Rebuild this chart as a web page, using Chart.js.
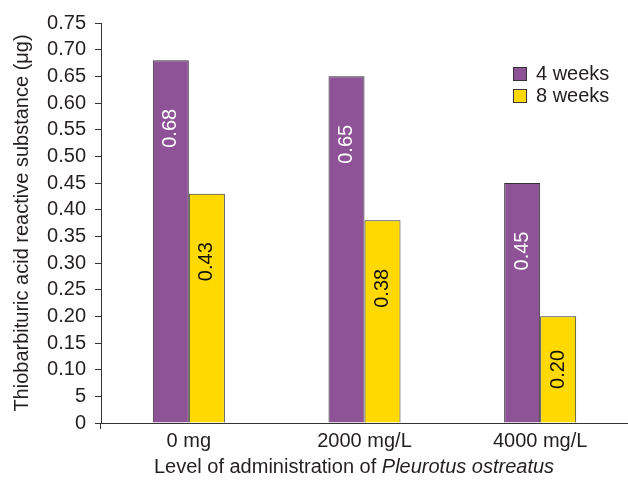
<!DOCTYPE html>
<html>
<head>
<meta charset="utf-8">
<script src="https://cdn.jsdelivr.net/npm/chart.js@4"></script>
<style>
  html, body { margin: 0; padding: 0; background: #fff; }
  #wrap { width: 628px; height: 481px; }
</style>
</head>
<body>
<div id="wrap"><canvas id="chart-1"></canvas></div>
<script>
const categories = ['0 mg', '2000 mg/L', '4000 mg/L']
const weeks4 = [0.68, 0.65, 0.45]
const weeks8 = [0.43, 0.38, 0.20]
const seriesLabels = ['4 weeks', '8 weeks']
const yTickLabels = ['0', '5', '0.10', '0.15', '0.20', '0.25', '0.30', '0.35', '0.40', '0.45', '0.50', '0.55', '0.60', '0.65', '0.70', '0.75']

const purple = '#8e5397'
const yellow = '#ffd900'
const edge = '#333333'
const textColor = '#231f20'
const font = "'Liberation Sans', Arial, sans-serif"
const fs = 20

// rotated value labels inside bars
const barLabels = {
  id: 'barLabels',
  afterDatasetsDraw (chart) {
    const ctx = chart.ctx
    chart.data.datasets.forEach((ds, i) => {
      chart.getDatasetMeta(i).data.forEach((bar, j) => {
        const h = bar.base - bar.y
        const cy = bar.y + Math.min(68, h / 2)
        ctx.save()
        ctx.translate(bar.x, cy)
        ctx.rotate(-Math.PI / 2)
        ctx.font = fs + 'px ' + font
        ctx.fillStyle = i === 0 ? '#ffffff' : '#111111'
        ctx.textAlign = 'center'
        ctx.textBaseline = 'middle'
        ctx.fillText(ds.data[j].toFixed(2), 0, 0)
        ctx.restore()
      })
    })
  }
}

// legend + x title with italic species name
const extras = {
  id: 'extras',
  afterDraw (chart) {
    const ctx = chart.ctx
    ctx.save()
    chart.data.datasets.forEach((ds, i) => {
      const y = 67 + i * 22
      ctx.fillStyle = ds.backgroundColor
      ctx.fillRect(513, y, 14, 14)
      ctx.strokeStyle = edge
      ctx.lineWidth = 1
      ctx.strokeRect(513.5, y + 0.5, 13, 13)
      ctx.fillStyle = textColor
      ctx.font = fs + 'px ' + font
      ctx.textBaseline = 'middle'
      ctx.textAlign = 'left'
      ctx.fillText(ds.label, 536, y + 7)
    })

    const a = 'Level of administration of '
    const b = 'Pleurotus ostreatus'
    ctx.font = fs + 'px ' + font
    const wa = ctx.measureText(a).width
    ctx.font = 'italic ' + fs + 'px ' + font
    const wb = ctx.measureText(b).width
    const x0 = 354 - (wa + wb) / 2
    ctx.fillStyle = textColor
    ctx.textBaseline = 'middle'
    ctx.textAlign = 'left'
    ctx.font = fs + 'px ' + font
    ctx.fillText(a, x0, 467)
    ctx.font = 'italic ' + fs + 'px ' + font
    ctx.fillText(b, x0 + wa, 467)
    ctx.restore()
  }
}

new Chart(document.getElementById('chart-1'), {
  type: 'bar',
  data: {
    labels: categories,
    datasets: [
      { label: seriesLabels[0], data: weeks4, backgroundColor: purple, borderColor: edge, borderWidth: 1 },
      { label: seriesLabels[1], data: weeks8, backgroundColor: yellow, borderColor: edge, borderWidth: 1 }
    ]
  },
  options: {
    responsive: true,
    maintainAspectRatio: false,
    animation: false,
    layout: { padding: { top: 23, right: 0, left: 10, bottom: 0 } },
    datasets: {
      bar: { categoryPercentage: 0.41, barPercentage: 1.0 }
    },
    scales: {
      x: {
        offset: true,
        afterFit: (s) => { s.height = 58 },
        border: { color: edge, width: 1 },
        grid: {
          offset: true,
          drawOnChartArea: false,
          drawTicks: true,
          tickLength: 6,
          color: (c) => c.index === 0 ? edge : 'rgba(0,0,0,0)'
        },
        ticks: { color: textColor, font: { family: font, size: fs }, padding: 0, maxRotation: 0 }
      },
      y: {
        min: 0,
        max: 0.75,
        afterFit: (s) => { s.width = 91 },
        border: { color: edge, width: 1 },
        grid: { drawOnChartArea: false, drawTicks: true, tickLength: 6, color: edge },
        ticks: {
          stepSize: 0.05,
          autoSkip: false,
          color: textColor,
          font: { family: font, size: fs },
          padding: 9,
          callback: (v, i) => yTickLabels[i]
        },
        title: {
          display: true,
          text: 'Thiobarbituric acid reactive substance (μg)',
          color: textColor,
          font: { family: font, size: fs },
          padding: { top: 0, bottom: 0 }
        }
      }
    },
    plugins: {
      legend: { display: false },
      tooltip: { enabled: false }
    }
  },
  plugins: [barLabels, extras]
})
</script>
</body>
</html>
